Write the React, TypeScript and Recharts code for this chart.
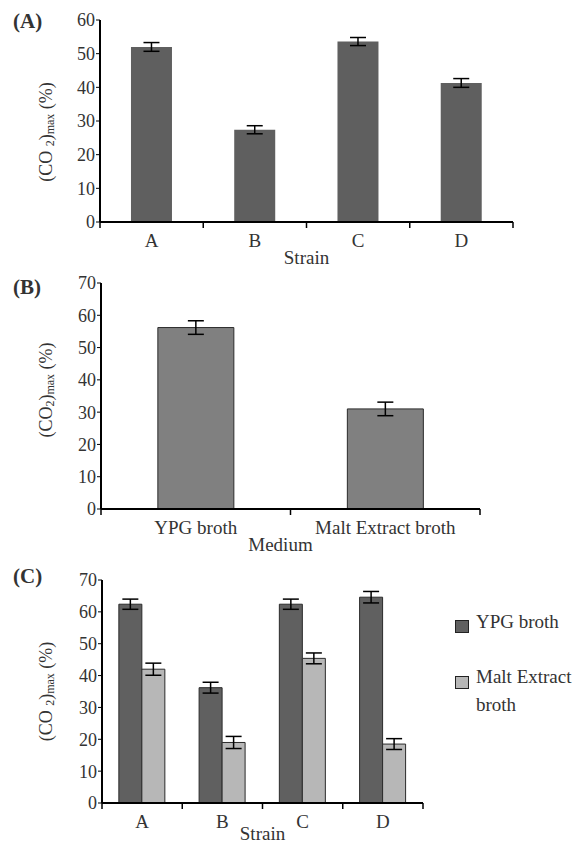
import { Bar, BarChart, ErrorBar, XAxis, YAxis } from "recharts";

// Panel A - CO2 max per strain
const strainsA = ["A", "B", "C", "D"];
const co2A = [52, 27.4, 53.6, 41.3];
const errA = [1.3, 1.2, 1.2, 1.3];

// Panel B - CO2 max per medium
const mediaB = ["YPG broth", "Malt Extract broth"];
const co2B = [56.2, 31];
const errB = [2.1, 2.1];

// Panel C - strain x medium
const strainsC = ["A", "B", "C", "D"];
const seriesC = ["YPG broth", "Malt Extract broth"];
const ypgC = [62.4, 36.2, 62.4, 64.6];
const ypgErrC = [1.6, 1.7, 1.6, 1.8];
const maltC = [42, 19, 45.4, 18.5];
const maltErrC = [1.9, 1.9, 1.7, 1.7];

const ticksA = [0, 10, 20, 30, 40, 50, 60];
const ticksBC = [0, 10, 20, 30, 40, 50, 60, 70];

const FONT = "'Liberation Serif', 'Times New Roman', serif";
const TEXT = "#333";

const dataA = strainsA.map((s, i) => ({ name: s, value: co2A[i], err: errA[i] }));
const dataB = mediaB.map((m, i) => ({ name: m, value: co2B[i], err: errB[i] }));
const dataC = strainsC.map((s, i) => ({
  name: s,
  ypg: ypgC[i],
  ypgErr: ypgErrC[i],
  malt: maltC[i],
  maltErr: maltErrC[i],
}));

// x tick: label at band centre, tick marks on band edges
function BandTick(props: any) {
  const { x, y, payload, index, visibleTicksCount, band } = props;
  const half = band / 2;
  return (
    <g>
      <line x1={x - half} x2={x - half} y1={y} y2={y + 6} stroke="#000" strokeWidth={1.5} />
      {index === visibleTicksCount - 1 && (
        <line x1={x + half} x2={x + half} y1={y} y2={y + 6} stroke="#000" strokeWidth={1.5} />
      )}
      <text x={x} y={y + 25} textAnchor="middle" fontSize={19} fontFamily={FONT} fill={TEXT}>
        {payload.value}
      </text>
    </g>
  );
}

function XTitle(props: any) {
  const { viewBox, text, shift = 0, drop = 42 } = props;
  const cx = viewBox.x + viewBox.width / 2 + shift;
  return (
    <text x={cx} y={viewBox.y + drop} textAnchor="middle" fontSize={19} fontFamily={FONT} fill={TEXT}>
      {text}
    </text>
  );
}

function YTitle(props: any) {
  const { viewBox, shift = 0, spaced } = props;
  const cx = viewBox.x + 46;
  const cy = viewBox.y + viewBox.height / 2 + shift;
  return (
    <text
      x={cx}
      y={cy}
      transform={`rotate(-90, ${cx}, ${cy})`}
      textAnchor="middle"
      dominantBaseline="central"
      fontSize={18}
      fontFamily={FONT}
      fill={TEXT}
    >
      {spaced ? "(CO " : "(CO"}
      <tspan fontSize={12} dy={4}>2</tspan>
      <tspan dy={-4}>)</tspan>
      <tspan fontSize={12} dy={4}>max</tspan>
      <tspan dy={-4}>{" (%)"}</tspan>
    </text>
  );
}

const yTick = { fontSize: 18, fontFamily: FONT, fill: TEXT };
const axisLine = { stroke: "#000", strokeWidth: 2 };

function PanelLetter({ text, top }: { text: string; top: number }) {
  return (
    <div
      style={{
        position: "absolute",
        left: 13,
        top,
        fontFamily: FONT,
        fontWeight: "bold",
        fontSize: 21,
        lineHeight: 1,
        color: TEXT,
      }}
    >
      {text}
    </div>
  );
}

export default function App() {
  return (
    <div style={{ position: "absolute", left: 0, top: 0, width: 588, height: 845, background: "#fff" }}>
      <PanelLetter text="(A)" top={11} />
      <PanelLetter text="(B)" top={277} />
      <PanelLetter text="(C)" top={566} />

      <div style={{ position: "absolute", left: 0, top: 0 }}>
        <BarChart width={588} height={270} data={dataA} margin={{ top: 20, right: 75, bottom: 0, left: 0 }} barCategoryGap="30%">
          <XAxis
            dataKey="name"
            height={48}
            interval={0}
            tickSize={0}
            tickMargin={0}
            tickLine={false}
            axisLine={axisLine}
            tick={(p: any) => <BandTick {...p} band={413 / 4} />}
            label={<XTitle text="Strain" />}
          />
          <YAxis
            width={100}
            domain={[0, 60]}
            ticks={ticksA}
            interval={0}
            tickSize={4}
            tickMargin={1}
            tick={yTick}
            tickLine={{ stroke: "#000" }}
            axisLine={axisLine}
            label={<YTitle shift={11} spaced />}
          />
          <Bar dataKey="value" fill="#5f5f5f" isAnimationActive={false}>
            <ErrorBar dataKey="err" width={8} stroke="#000" strokeWidth={1.5} isAnimationActive={false} />
          </Bar>
        </BarChart>
      </div>

      <div style={{ position: "absolute", left: 0, top: 270 }}>
        <BarChart width={588} height={290} data={dataB} margin={{ top: 13, right: 108, bottom: 0, left: 0 }} barCategoryGap="30%">
          <XAxis
            dataKey="name"
            height={51}
            interval={0}
            tickSize={0}
            tickMargin={0}
            tickLine={false}
            axisLine={axisLine}
            tick={(p: any) => <BandTick {...p} band={379 / 2} />}
            label={<XTitle text="Medium" shift={-10} />}
          />
          <YAxis
            width={101}
            domain={[0, 70]}
            ticks={ticksBC}
            interval={0}
            tickSize={4}
            tickMargin={1}
            tick={yTick}
            tickLine={{ stroke: "#000" }}
            axisLine={axisLine}
            label={<YTitle shift={-6} />}
          />
          <Bar dataKey="value" fill="#808080" stroke="#2b2b2b" strokeWidth={1} isAnimationActive={false}>
            <ErrorBar dataKey="err" width={8} stroke="#000" strokeWidth={1.5} isAnimationActive={false} />
          </Bar>
        </BarChart>
      </div>

      <div style={{ position: "absolute", left: 0, top: 560 }}>
        <BarChart width={588} height={285} data={dataC} margin={{ top: 20, right: 165, bottom: 0, left: 0 }} barCategoryGap="21%" barGap={0}>
          <XAxis
            dataKey="name"
            height={42}
            interval={0}
            tickSize={0}
            tickMargin={0}
            tickLine={false}
            axisLine={axisLine}
            tick={(p: any) => <BandTick {...p} band={321 / 4} />}
            label={<XTitle text="Strain" drop={37} />}
          />
          <YAxis
            width={102}
            domain={[0, 70]}
            ticks={ticksBC}
            interval={0}
            tickSize={4}
            tickMargin={1}
            tick={yTick}
            tickLine={{ stroke: "#000" }}
            axisLine={axisLine}
            label={<YTitle spaced />}
          />
          <Bar dataKey="ypg" name={seriesC[0]} fill="#606060" stroke="#2b2b2b" strokeWidth={1} isAnimationActive={false}>
            <ErrorBar dataKey="ypgErr" width={8} stroke="#000" strokeWidth={1.5} isAnimationActive={false} />
          </Bar>
          <Bar dataKey="malt" name={seriesC[1]} fill="#b7b7b7" stroke="#2b2b2b" strokeWidth={1} isAnimationActive={false}>
            <ErrorBar dataKey="maltErr" width={8} stroke="#000" strokeWidth={1.5} isAnimationActive={false} />
          </Bar>
        </BarChart>
      </div>

      {/* legend for panel C */}
      {seriesC.map((name, i) => (
        <div key={name}>
          <div
            style={{
              position: "absolute",
              left: 455,
              top: i === 0 ? 620 : 676,
              width: 14,
              height: 13,
              boxSizing: "border-box",
              border: "1px solid #222",
              background: i === 0 ? "#606060" : "#b7b7b7",
            }}
          />
          <div
            style={{
              position: "absolute",
              left: 476,
              top: i === 0 ? 608 : 663,
              width: 112,
              fontFamily: FONT,
              fontSize: 19,
              lineHeight: "28px",
              color: TEXT,
            }}
          >
            {name}
          </div>
        </div>
      ))}
    </div>
  );
}
